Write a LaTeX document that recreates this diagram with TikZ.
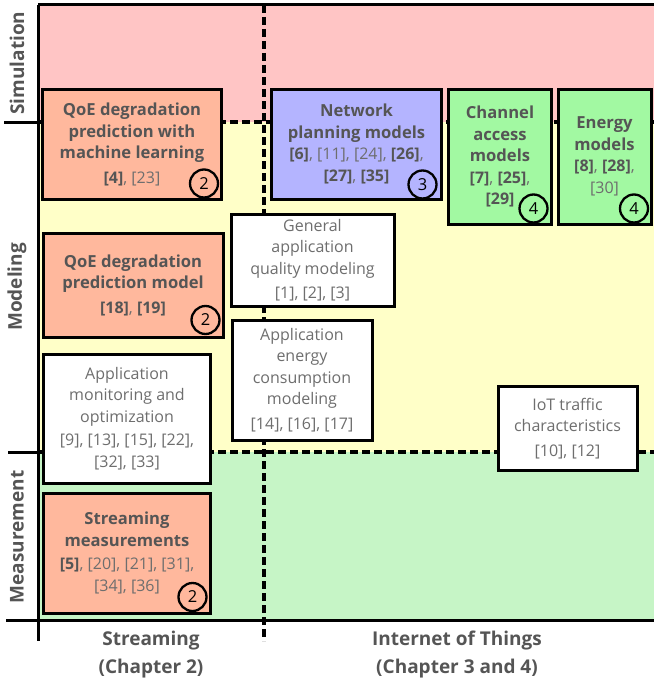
\documentclass[tikz,border=0pt]{standalone}
\usepackage{fontspec}
\setmainfont{Open Sans}
\definecolor{simfill}{RGB}{255,197,197}
\definecolor{modfill}{RGB}{255,255,200}
\definecolor{measfill}{RGB}{198,245,198}
\definecolor{salmon}{RGB}{255,184,157}
\definecolor{lavender}{RGB}{180,180,255}
\definecolor{mint}{RGB}{162,249,162}
\definecolor{titlecol}{RGB}{85,85,85}
\definecolor{refcol}{RGB}{110,110,110}
\newcommand{\ttl}[1]{{\fontsize{16.6}{21.5}\selectfont\bfseries\color{titlecol}#1}}
\newcommand{\bref}[1]{{\bfseries\color{titlecol}[#1]}}
\begin{document}
\begin{tikzpicture}[x=1pt,y=-1pt,
  axis/.style={line width=3pt},
  divider/.style={line width=3.2pt,dash pattern=on 8pt off 4pt},
  box/.style={draw,line width=3pt,rectangle,inner sep=0pt,align=center,
    text=refcol,font=\fontsize{16}{21.5}\selectfont},
  numcirc/.style={draw,line width=2.3pt,circle,minimum size=28pt,inner sep=0pt,
    font=\fontsize{16.5}{16.5}\selectfont,text=black},
  axlabel/.style={text=titlecol,font=\fontsize{19}{19}\selectfont\bfseries},
  catlabel/.style={text=titlecol,align=center,font=\fontsize{19}{28}\selectfont\bfseries}]
\useasboundingbox (0,0) rectangle (654,685);

% background bands
\fill[simfill] (38,5) rectangle (654,122);
\fill[modfill] (38,122) rectangle (654,452);
\fill[measfill] (38,452) rectangle (654,620);

% dashed dividers
\draw[divider] (38,122) -- (654,122);
\draw[divider] (38,452) -- (654,452);
\draw[divider] (264,5) -- (264,641);

% axes and ticks
\draw[axis] (38,5) -- (654,5);
\draw[axis] (38,5) -- (38,641);
\draw[axis] (6,620) -- (654,620);
\draw[axis] (4,122) -- (38,122);
\draw[axis] (8,452) -- (38,452);

% row labels
\node[axlabel,rotate=90] (simlab) at (17,63) {Simulation};
\node[axlabel,rotate=90] (modlab) at (17,287) {Modeling};
\node[axlabel,rotate=90] (measlab) at (17,537) {Measurement};

% column labels
\node[catlabel] (streamlab) at (151,655) {Streaming\\(Chapter 2)};
\node[catlabel] (iotlab) at (457,655) {Internet of Things\\(Chapter 3 and 4)};

% research boxes
\node[box,fill=salmon,minimum width=179,minimum height=110] (qoeml) at (132,144.5)
  {\ttl{QoE degradation}\\\ttl{prediction with}\\\ttl{machine learning}\\[3pt]\bref{4}, [23]};
\node[box,fill=lavender,minimum width=170,minimum height=110] (netplan) at (356.5,144)
  {\ttl{Network}\\\ttl{planning models}\\\bref{6}, [11], [24], \bref{26},\\\bref{27}, \bref{35}};
\node[box,fill=mint,minimum width=103,minimum height=135] (chanacc) at (500,156.5)
  {\ttl{Channel}\\\ttl{access}\\\ttl{models}\\\bref{7}, \bref{25},\\\bref{29}};
\node[box,fill=mint,minimum width=93,minimum height=135] (energy) at (604.5,156.5)
  {\ttl{Energy}\\\ttl{models}\\\bref{8}, \bref{28},\\{}[30]};
\node[box,fill=white,minimum width=163,minimum height=92] (genqual) at (312.5,260)
  {General\\application\\quality modeling\\[3pt][1], [2], [3]};
\node[box,fill=salmon,minimum width=180,minimum height=104] (qoemod) at (133,285)
  {\ttl{QoE degradation}\\\ttl{prediction model}\\[3pt]\bref{18}, \bref{19}};
\node[box,fill=white,minimum width=140,minimum height=120] (appenergy) at (302,380)
  {Application\\energy\\consumption\\modeling\\[3pt][14], [16], [17]};
\node[box,fill=white,minimum width=167,minimum height=129] (appmon) at (127,418.5)
  {Application\\monitoring and\\optimization\\[2pt][9], [13], [15], [22],\\{}[32], [33]};
\node[box,fill=white,minimum width=139,minimum height=84] (iottraffic) at (567.5,428.5)
  {IoT traffic\\characteristics\\[3pt][10], [12]};
\node[box,fill=salmon,minimum width=167,minimum height=120] (streammeas) at (127,553)
  {\ttl{Streaming}\\\ttl{measurements}\\[2pt]\bref{5}, [20], [21], [31],\\{}[34], [36]};

% chapter markers
\node[numcirc] (mk1) at (204,183.5) {2};
\node[numcirc] (mk2) at (422.5,184.5) {3};
\node[numcirc] (mk3) at (533.5,208.5) {4};
\node[numcirc] (mk4) at (634,208.5) {4};
\node[numcirc] (mk5) at (205.5,320) {2};
\node[numcirc] (mk6) at (192.5,597) {2};
\end{tikzpicture}
\end{document}
